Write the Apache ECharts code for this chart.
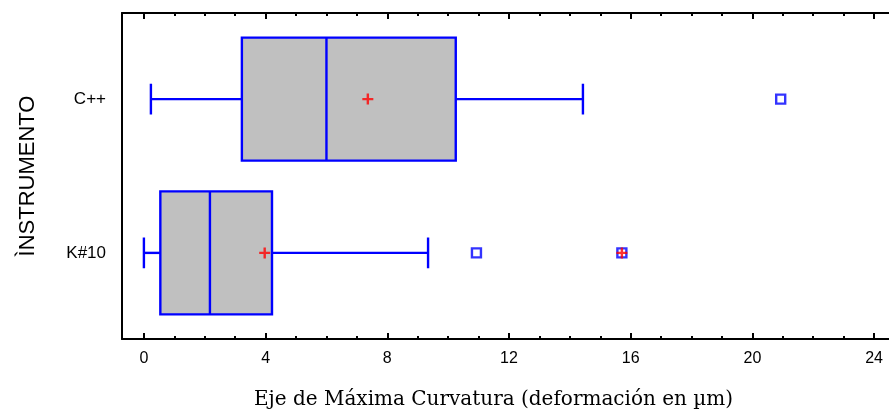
<!DOCTYPE html>
<html lang="es" style="height: 100%">
<head>
	<meta charset="utf-8">
	<title></title>
</head>
<body style="height: 100%; margin: 0; background: #fff">
<div id="container" style="width: 889px; height: 417px"></div>

<script type="text/javascript" src="https://fastly.jsdelivr.net/npm/echarts@6.0.0/dist/echarts.min.js"></script>

<script type="text/javascript">
	// datos
	var categories = ['K#10', 'C++'];
	var whiskerLow = [0.0, 0.23];
	var q1 = [0.54, 3.22];
	var median = [2.17, 6.0];
	var q3 = [4.21, 10.25];
	var whiskerHigh = [9.34, 14.43];
	var means = [3.97, 7.36];
	var outlierCat = ['K#10', 'K#10', 'C++'];
	var outlierVal = [10.93, 15.71, 20.93];
	var farCat = ['K#10'];
	var farVal = [15.71];
	var majorTicks = [0, 4, 8, 12, 16, 20, 24];
	var minorTicks = [1, 2, 3, 5, 6, 7, 9, 10, 11, 13, 14, 15, 17, 18, 19, 21, 22, 23];

	var dom = document.getElementById('container');
	var myChart = echarts.init(dom, null, { renderer: 'canvas' });

	var catPos = function (c) { return categories.indexOf(c) + 1; };
	var boxData = categories.map(function (c, i) {
		return [i + 1, whiskerLow[i], q1[i], median[i], q3[i], whiskerHigh[i]];
	});
	var meanData = means.map(function (m, i) { return [m, i + 1]; });
	var outData = outlierVal.map(function (v, i) { return [v, catPos(outlierCat[i])]; });
	var farData = farVal.map(function (v, i) { return [v, catPos(farCat[i])]; });

	var blue = '#0000ff';
	var sans = 'Liberation Sans, Arial, sans-serif';
	var plus = 'path://M0,5L10,5M5,0L5,10';

	function renderBox(params, api) {
		var y = api.value(0);
		var lo = api.coord([api.value(1), y]);
		var b1 = api.coord([api.value(2), y]);
		var md = api.coord([api.value(3), y]);
		var b3 = api.coord([api.value(4), y]);
		var hi = api.coord([api.value(5), y]);
		var half = api.size([0, 0.4])[1];
		var cap = api.size([0, 0.1])[1];
		var cy = lo[1];
		var ls = { stroke: blue, lineWidth: 2.4 };
		return {
			type: 'group',
			children: [
				{ type: 'line', shape: { x1: lo[0], y1: cy, x2: b1[0], y2: cy }, style: ls },
				{ type: 'line', shape: { x1: b3[0], y1: cy, x2: hi[0], y2: cy }, style: ls },
				{ type: 'line', shape: { x1: lo[0], y1: cy - cap, x2: lo[0], y2: cy + cap }, style: ls },
				{ type: 'line', shape: { x1: hi[0], y1: cy - cap, x2: hi[0], y2: cy + cap }, style: ls },
				{ type: 'rect', shape: { x: b1[0], y: cy - half, width: b3[0] - b1[0], height: 2 * half },
					style: { fill: '#c0c0c0', stroke: blue, lineWidth: 2.4 } },
				{ type: 'line', shape: { x1: md[0], y1: cy - half, x2: md[0], y2: cy + half }, style: ls }
			]
		};
	}

	// el eje sigue hasta el borde derecho de la imagen
	var xMin = -0.72, xMax = 24.49;
	var gridRect = { left: 122, top: 13, right: 0, height: 326 };
	var axisLineStyle = { color: '#000', width: 2 };

	var option = {
		animation: false,
		grid: [
			Object.assign({}, gridRect),
			Object.assign({}, gridRect)
		],
		xAxis: [
			{
				type: 'value', gridIndex: 0, position: 'bottom', min: xMin, max: xMax,
				axisLine: { show: true, onZero: false, lineStyle: axisLineStyle },
				axisTick: { show: true, inside: true, length: 6, customValues: majorTicks, lineStyle: axisLineStyle },
				axisLabel: { customValues: majorTicks, margin: 12, fontFamily: sans, fontSize: 16, color: '#000' },
				splitLine: { show: false },
				name: 'Eje de Máxima Curvatura (deformación en µm)',
				nameLocation: 'middle',
				nameGap: 51,
				nameTextStyle: { fontFamily: 'DejaVu Serif, serif', fontSize: 20, color: '#000', padding: [0, 24, 0, 0] }
			},
			{
				type: 'value', gridIndex: 0, position: 'top', min: xMin, max: xMax,
				axisLine: { show: true, onZero: false, lineStyle: axisLineStyle },
				axisTick: { show: true, inside: true, length: 6, customValues: majorTicks, lineStyle: axisLineStyle },
				axisLabel: { show: false },
				splitLine: { show: false }
			},
			{
				type: 'value', gridIndex: 1, position: 'bottom', min: xMin, max: xMax,
				axisLine: { show: false, onZero: false },
				axisTick: { show: true, inside: true, length: 3, customValues: minorTicks, lineStyle: axisLineStyle },
				axisLabel: { show: false },
				splitLine: { show: false }
			},
			{
				type: 'value', gridIndex: 1, position: 'top', min: xMin, max: xMax,
				axisLine: { show: false, onZero: false },
				axisTick: { show: true, inside: true, length: 3, customValues: minorTicks, lineStyle: axisLineStyle },
				axisLabel: { show: false },
				splitLine: { show: false }
			}
		],
		yAxis: [
			{
				type: 'value', gridIndex: 0, min: 0.44, max: 2.56,
				axisLine: { show: true, onZero: false, lineStyle: axisLineStyle },
				axisTick: { show: false },
				axisLabel: {
					customValues: [1, 2],
					margin: 16,
					fontFamily: sans, fontSize: 17, color: '#000',
					formatter: function (v) { return categories[Math.round(v) - 1] || ''; }
				},
				splitLine: { show: false },
				name: 'ÌNSTRUMENTO',
				nameLocation: 'middle',
				nameRotate: 90,
				nameGap: 83,
				nameTextStyle: { fontFamily: sans, fontSize: 22, color: '#000' }
			},
			{
				type: 'value', gridIndex: 1, min: 0.44, max: 2.56, show: false
			}
		],
		series: [
			{
				type: 'custom',
				xAxisIndex: 0, yAxisIndex: 0,
				renderItem: renderBox,
				encode: { x: [1, 2, 3, 4, 5], y: 0 },
				data: boxData,
				z: 2
			},
			{
				type: 'scatter',
				xAxisIndex: 0, yAxisIndex: 0,
				symbol: 'rect',
				symbolSize: 9,
				itemStyle: { color: 'rgba(255,255,255,0)', borderColor: blue, borderWidth: 2.4 },
				data: outData,
				z: 3
			},
			{
				type: 'scatter',
				xAxisIndex: 0, yAxisIndex: 0,
				symbol: plus,
				symbolSize: 11,
				itemStyle: { color: 'none', borderColor: '#ff0000', borderWidth: 2.4 },
				data: meanData.concat(farData),
				z: 4
			}
		]
	};

	myChart.setOption(option);
	window.addEventListener('resize', myChart.resize);
</script>
</body>
</html>
